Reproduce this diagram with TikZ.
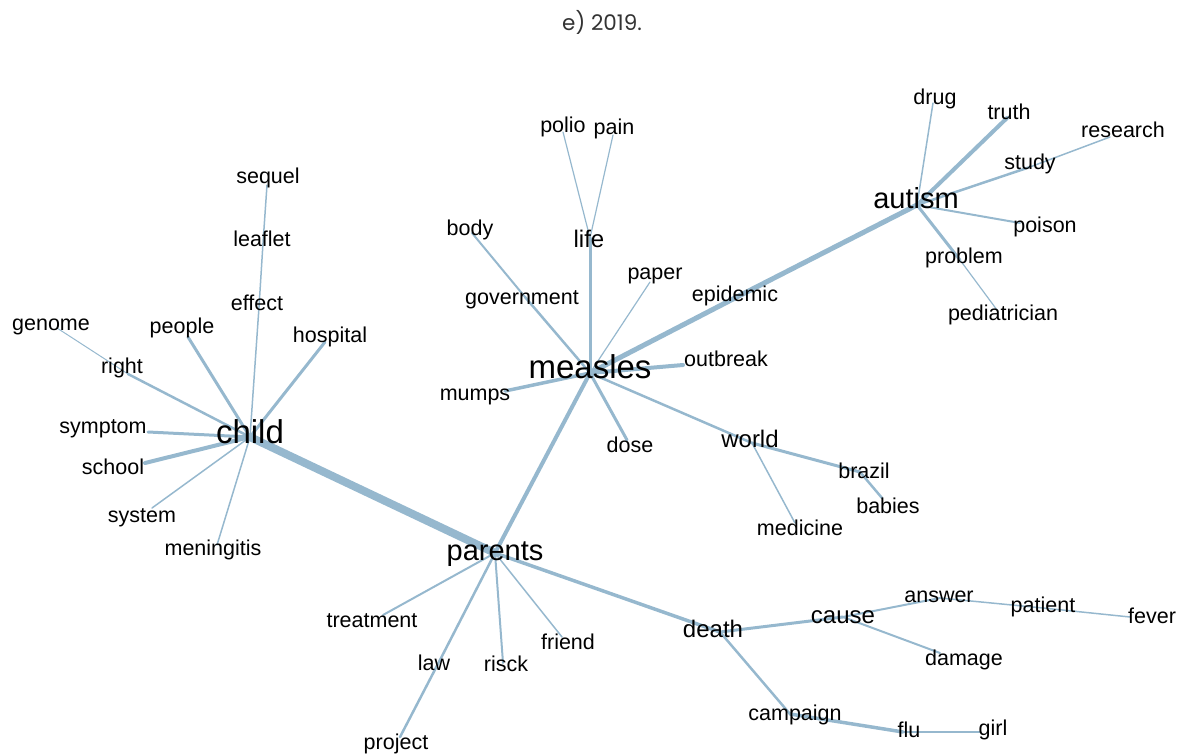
\documentclass[tikz,border=0pt]{standalone}
\usepackage{fontspec}
\setmainfont{Liberation Sans}
\newfontfamily\titlefont{Poppins}
\definecolor{edgeblue}{RGB}{150,184,206}

\begin{document}
\begin{tikzpicture}[x=1pt, y=-1pt,
    word/.style={anchor=base, inner sep=0pt, font=\fontsize{21.5}{24}\selectfont},
    wordmid/.style={word, font=\fontsize{24}{28}\selectfont},
    wordbig/.style={word, font=\fontsize{29}{34}\selectfont},
    wordhuge/.style={word, font=\fontsize{33}{38}\selectfont},
    link/.style={draw=edgeblue, line cap=round, line width=#1},
    link/.default=2]
    \useasboundingbox (0,0) rectangle (1180,754);

    % Title
    \node[anchor=base, inner sep=0pt, text=black!80, font=\titlefont\fontsize{21.5}{26}\selectfont] (title) at (602,31) {e) 2019.};

    % Vertex positions
    \coordinate (child) at (250,437);
    \coordinate (parents) at (495,553);
    \coordinate (measles) at (590,373);
    \coordinate (autism) at (917,205);
    \coordinate (sequel) at (267,185);
    \coordinate (leaflet) at (263,243);
    \coordinate (effect) at (259,307);
    \coordinate (genome) at (57,328);
    \coordinate (right) at (128,374);
    \coordinate (people) at (188,337);
    \coordinate (hospital) at (325,342);
    \coordinate (symptom) at (148,432);
    \coordinate (school) at (145,463);
    \coordinate (system) at (152,508);
    \coordinate (meningitis) at (217,545);
    \coordinate (polio) at (563,132);
    \coordinate (pain) at (613,135);
    \coordinate (life) at (590,238);
    \coordinate (body) at (472,233);
    \coordinate (government) at (525,297);
    \coordinate (paper) at (650,282);
    \coordinate (epidemic) at (733,299);
    \coordinate (outbreak) at (683,365);
    \coordinate (mumps) at (505,391);
    \coordinate (dose) at (627,440);
    \coordinate (world) at (752,443);
    \coordinate (brazil) at (860,472);
    \coordinate (babies) at (882,498);
    \coordinate (medicine) at (795,523);
    \coordinate (treatment) at (383,615);
    \coordinate (law) at (440,660);
    \coordinate (project) at (400,737);
    \coordinate (risck) at (503,663);
    \coordinate (friend) at (562,637);
    \coordinate (death) at (720,632);
    \coordinate (cause) at (843,617);
    \coordinate (answer) at (940,598);
    \coordinate (patient) at (1043,608);
    \coordinate (fever) at (1130,617);
    \coordinate (damage) at (940,653);
    \coordinate (campaign) at (790,714);
    \coordinate (flu) at (903,732);
    \coordinate (girl) at (980,732);
    \coordinate (drug) at (933,103);
    \coordinate (truth) at (1007,118);
    \coordinate (study) at (1030,167);
    \coordinate (research) at (1110,137);
    \coordinate (poison) at (1020,223);
    \coordinate (problem) at (960,260);
    \coordinate (pediatrician) at (997,310);

    % Edges around child
    \draw[link=8] (child) -- (parents);
    \draw[link=1.5] (child) -- (effect) -- (leaflet) -- (sequel);
    \draw[link=2.5] (child) -- (right);
    \draw[link=1] (right) -- (genome);
    \draw[link=3] (child) -- (people);
    \draw[link=3] (child) -- (hospital);
    \draw[link=3] (child) -- (symptom);
    \draw[link=4] (child) -- (school);
    \draw[link=1.5] (child) -- (system);
    \draw[link=1.5] (child) -- (meningitis);

    % Edges around measles
    \draw[link=4] (measles) -- (parents);
    \draw[link=5] (measles) -- (epidemic) -- (autism);
    \draw[link=4] (measles) -- (outbreak);
    \draw[link=3] (measles) -- (life);
    \draw[link=1.2] (life) -- (polio);
    \draw[link=1.2] (life) -- (pain);
    \draw[link=2.5] (measles) -- (government);
    \draw[link=2] (government) -- (body);
    \draw[link=1.2] (measles) -- (paper);
    \draw[link=3.5] (measles) -- (mumps);
    \draw[link=3] (measles) -- (dose);
    \draw[link=2.5] (measles) -- (world);
    \draw[link=3] (world) -- (brazil);
    \draw[link=2.5] (brazil) -- (babies);
    \draw[link=1.5] (world) -- (medicine);

    % Edges around autism
    \draw[link=4] (autism) -- (truth);
    \draw[link=1.5] (autism) -- (drug);
    \draw[link=2.5] (autism) -- (study);
    \draw[link=1.5] (study) -- (research);
    \draw[link=2] (autism) -- (poison);
    \draw[link=3] (autism) -- (problem);
    \draw[link=1.2] (problem) -- (pediatrician);

    % Edges around parents
    \draw[link=2] (parents) -- (treatment);
    \draw[link=2.5] (parents) -- (law) -- (project);
    \draw[link=2] (parents) -- (risck);
    \draw[link=1.5] (parents) -- (friend);
    \draw[link=3.5] (parents) -- (death);
    \draw[link=3] (death) -- (cause);
    \draw[link=2] (cause) -- (answer);
    \draw[link=1.5] (answer) -- (patient);
    \draw[link=1.5] (patient) -- (fever);
    \draw[link=2] (cause) -- (damage);
    \draw[link=2.5] (death) -- (campaign);
    \draw[link=3.5] (campaign) -- (flu);
    \draw[link=2] (flu) -- (girl);

    % Labels
    \node[wordhuge] (child-txt) at (250,443) {child};
    \node[wordbig] (parents-txt) at (495,560) {parents};
    \node[wordhuge] (measles-txt) at (590,378) {measles};
    \node[wordbig] (autism-txt) at (916,208) {autism};
    \node[word] (sequel-txt) at (268,184) {sequel};
    \node[word] (leaflet-txt) at (262,246) {leaflet};
    \node[word] (effect-txt) at (257,310) {effect};
    \node[word] (genome-txt) at (51,330) {genome};
    \node[word] (right-txt) at (122,373) {right};
    \node[word] (people-txt) at (182,333) {people};
    \node[word] (hospital-txt) at (330,342) {hospital};
    \node[word] (symptom-txt) at (103,433) {symptom};
    \node[word] (school-txt) at (113,474) {school};
    \node[word] (system-txt) at (142,522) {system};
    \node[word] (meningitis-txt) at (213,555) {meningitis};
    \node[word] (polio-txt) at (563,133) {polio};
    \node[word] (pain-txt) at (614,135) {pain};
    \node[wordmid] (life-txt) at (589,247) {life};
    \node[word] (body-txt) at (470,235) {body};
    \node[word] (government-txt) at (522,304) {government};
    \node[word] (paper-txt) at (655,279) {paper};
    \node[word] (epidemic-txt) at (735,301) {epidemic};
    \node[word] (outbreak-txt) at (726,366) {outbreak};
    \node[word] (mumps-txt) at (475,400) {mumps};
    \node[word] (dose-txt) at (630,452) {dose};
    \node[wordmid] (world-txt) at (750,447) {world};
    \node[word] (brazil-txt) at (864,478) {brazil};
    \node[word] (babies-txt) at (888,513) {babies};
    \node[word] (medicine-txt) at (800,535) {medicine};
    \node[word] (treatment-txt) at (372,627) {treatment};
    \node[word] (law-txt) at (434,670) {law};
    \node[word] (project-txt) at (396,749) {project};
    \node[word] (risck-txt) at (506,671) {risck};
    \node[word] (friend-txt) at (568,649) {friend};
    \node[wordmid] (death-txt) at (713,637) {death};
    \node[wordmid] (cause-txt) at (843,623) {cause};
    \node[word] (answer-txt) at (939,602) {answer};
    \node[word] (patient-txt) at (1043,612) {patient};
    \node[word] (fever-txt) at (1152,623) {fever};
    \node[word] (damage-txt) at (964,665) {damage};
    \node[word] (campaign-txt) at (795,720) {campaign};
    \node[word] (flu-txt) at (909,737) {flu};
    \node[word] (girl-txt) at (993,735) {girl};
    \node[word] (drug-txt) at (935,105) {drug};
    \node[word] (truth-txt) at (1009,120) {truth};
    \node[word] (study-txt) at (1030,170) {study};
    \node[word] (research-txt) at (1123,138) {research};
    \node[word] (poison-txt) at (1045,233) {poison};
    \node[word] (problem-txt) at (964,263) {problem};
    \node[word] (pediatrician-txt) at (1003,320) {pediatrician};
\end{tikzpicture}
\end{document}
